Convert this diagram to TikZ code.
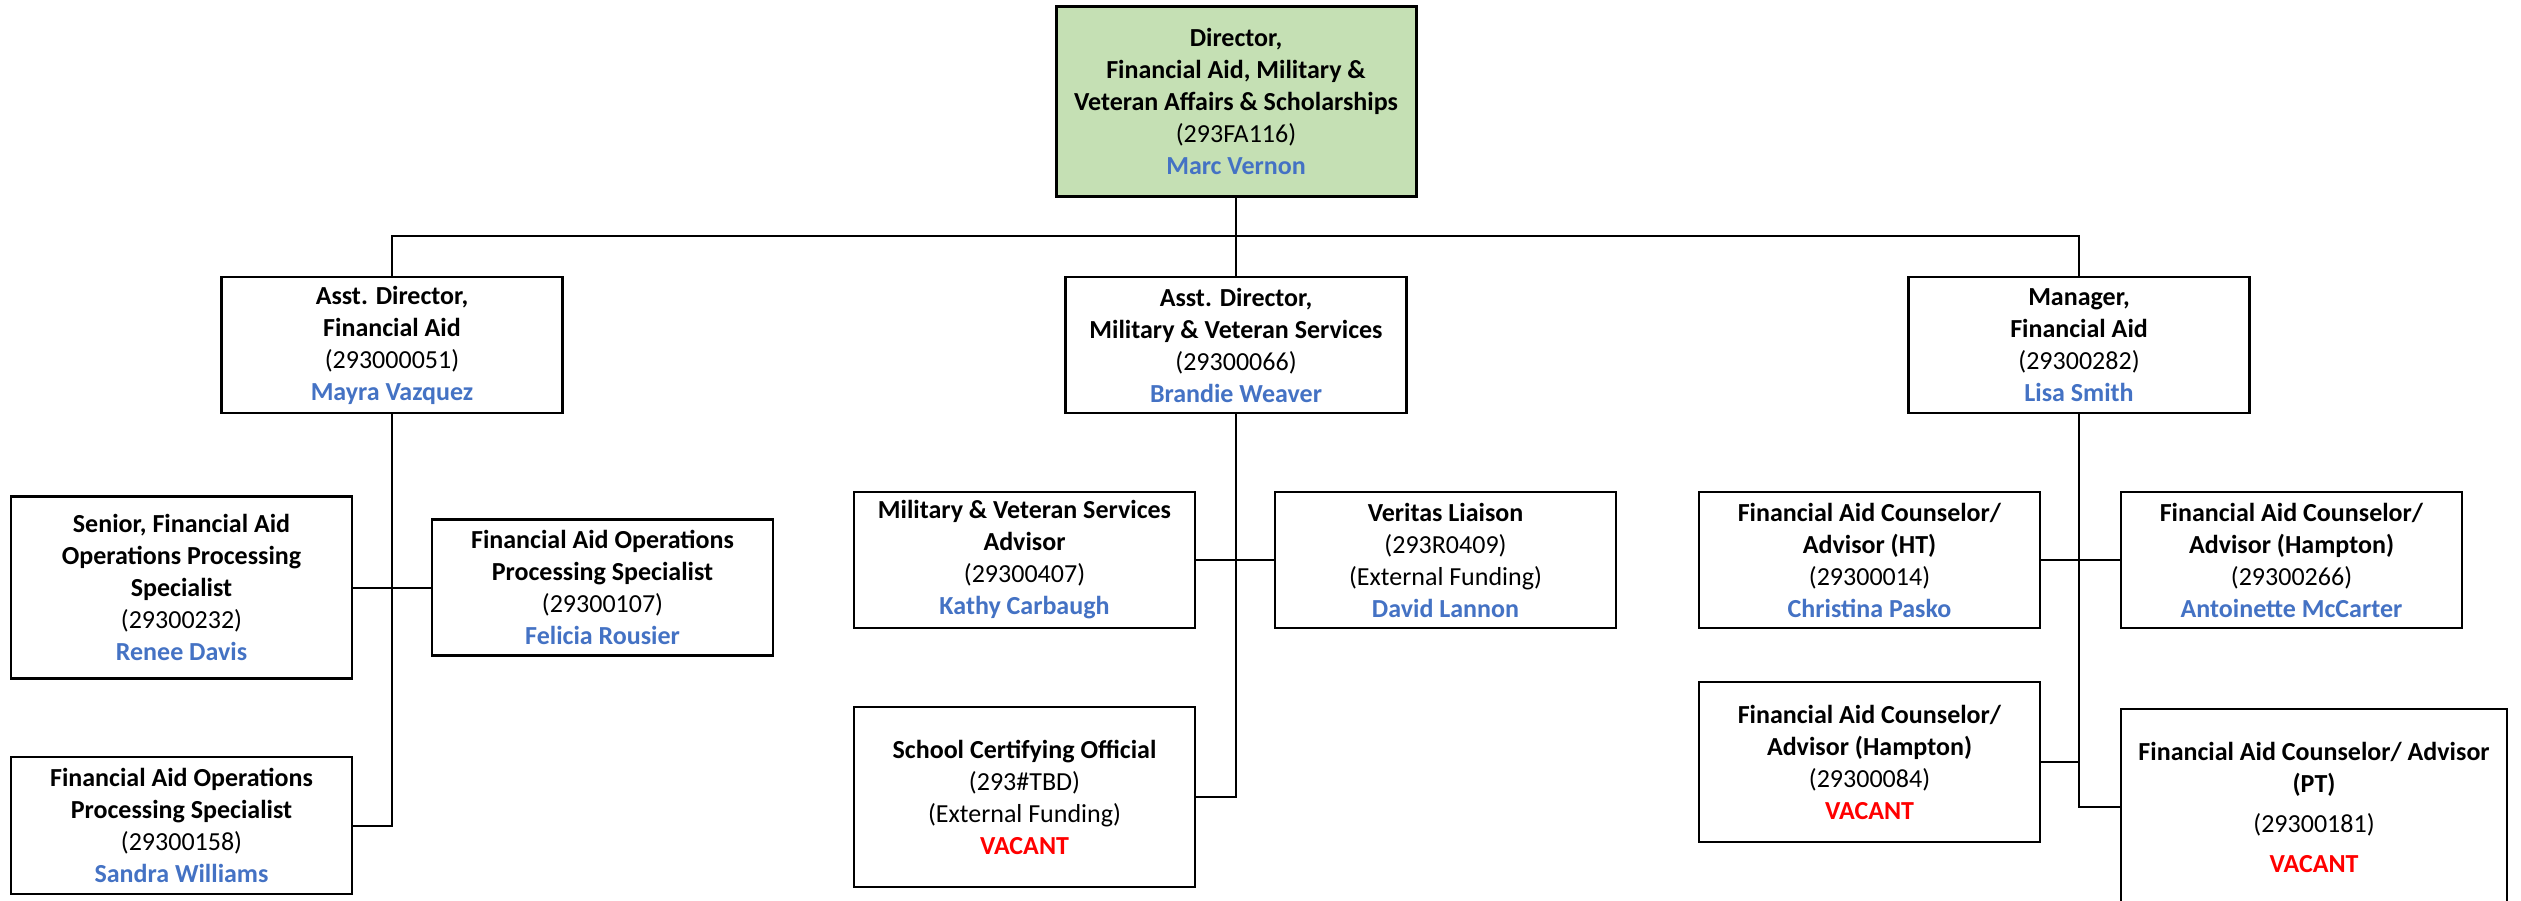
\documentclass[tikz,border=0pt]{standalone}
\usepackage{fontspec}
\setmainfont{Carlito}
\definecolor{nameblue}{HTML}{4472C4}
\definecolor{vacred}{HTML}{FF0000}
\definecolor{topgreen}{HTML}{C5E0B4}
\newcommand{\ttl}[1]{\textbf{#1}}
\newcommand{\nm}[1]{\textcolor{nameblue}{\textbf{#1}}}
\newcommand{\vac}{\textcolor{vacred}{\textbf{VACANT}}}
\begin{document}
\begin{tikzpicture}[x=1pt,y=-1pt,
  box/.style={draw=black,line width=2.4pt,fill=white,align=center,inner sep=0pt,
    minimum width=341pt,minimum height=136pt,
    font=\fontsize{26}{32}\selectfont},
  conn/.style={draw=black,line width=2pt}]
\clip (0,0) rectangle (2521,900);
\fill[white] (0,0) rectangle (2521,900);
% top
\node[box,fill=topgreen,line width=3pt,minimum width=360pt,minimum height=190pt] (top) at (1236,101)
  {\ttl{Director,}\\\ttl{Financial Aid, Military \&}\\\ttl{Veteran Affairs \& Scholarships}\\(293FA116)\\\nm{Marc Vernon}};
% level 2
\node[box] (adfa) at (392,345) {\ttl{Asst. Director,}\\\ttl{Financial Aid}\\(293000051)\\\nm{Mayra Vazquez}};
\node[box] (admvs) at (1236,345) {\ttl{Asst. Director,}\\\ttl{Military \& Veteran Services}\\(29300066)\\\nm{Brandie Weaver}};
\node[box] (mgr) at (2079,345) {\ttl{Manager,}\\\ttl{Financial Aid}\\(29300282)\\\nm{Lisa Smith}};
% left branch
\node[box,minimum height=182pt] (senior) at (181.5,587.5) {\ttl{Senior, Financial Aid}\\\ttl{Operations Processing}\\\ttl{Specialist}\\(29300232)\\\nm{Renee Davis}};
\node[box] (felicia) at (602.5,587.5) {\ttl{Financial Aid Operations}\\\ttl{Processing Specialist}\\(29300107)\\\nm{Felicia Rousier}};
\node[box,minimum height=137pt] (sandra) at (181.5,825.5) {\ttl{Financial Aid Operations}\\\ttl{Processing Specialist}\\(29300158)\\\nm{Sandra Williams}};
% middle branch
\node[box] (mvsadv) at (1024.5,560) {\ttl{Military \& Veteran Services}\\\ttl{Advisor}\\(29300407)\\\nm{Kathy Carbaugh}};
\node[box] (veritas) at (1445.5,560) {\ttl{Veritas Liaison}\\(293R0409)\\(External Funding)\\\nm{David Lannon}};
\node[box,minimum height=180pt] (school) at (1024.5,797) {\ttl{School Certifying Official}\\(293\#TBD)\\(External Funding)\\\vac};
% right branch
\node[box] (christina) at (1869.5,560) {\ttl{Financial Aid Counselor/}\\\ttl{Advisor (HT)}\\(29300014)\\\nm{Christina Pasko}};
\node[box] (antoinette) at (2291.5,560) {\ttl{Financial Aid Counselor/}\\\ttl{Advisor (Hampton)}\\(29300266)\\\nm{Antoinette McCarter}};
\node[box,minimum height=160pt] (hampton) at (1869.5,762) {\ttl{Financial Aid Counselor/}\\\ttl{Advisor (Hampton)}\\(29300084)\\\vac};
\node[box,minimum width=386pt,minimum height=196pt] (pt) at (2314,807) {\ttl{Financial Aid Counselor/ Advisor}\\\ttl{(PT)}\\[8pt](29300181)\\[8pt]\vac};
% connectors
\coordinate (bus) at (1236,236);
\draw[conn] (top.south) -- (bus);
\draw[conn] (adfa.north) |- (bus) -| (mgr.north);
\draw[conn] (bus) -- (admvs.north);
\draw[conn] (adfa.south) |- (sandra.east);
\draw[conn] (senior.east) -- (felicia.west);
\draw[conn] (admvs.south) |- (school.east);
\draw[conn] (mvsadv.east) -- (veritas.west);
\draw[conn] (mgr.south) |- (pt.west);
\draw[conn] (christina.east) -- (antoinette.west);
\draw[conn] (hampton.east) -- (hampton.east -| mgr.south);
\end{tikzpicture}
\end{document}
